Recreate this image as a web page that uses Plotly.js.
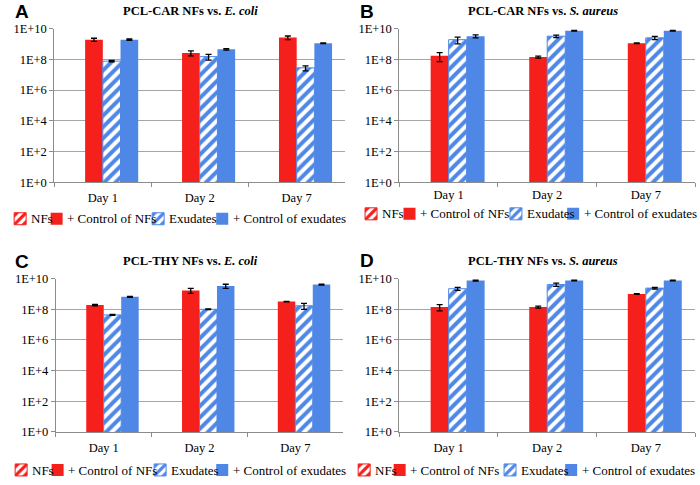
<!DOCTYPE html>
<html>
<head>
<meta charset="utf-8">
<script src="https://cdn.plot.ly/plotly-3.0.1.min.js"></script>
<style>
  html, body { margin: 0; padding: 0; background: #fff; }
  #chart { width: 700px; height: 485px; }
</style>
</head>
<body>
<div id="chart"></div>
<script>
// --- data ---
const days = ['Day 1', 'Day 2', 'Day 7'];
const seriesNames = ['NFs', '+ Control of NFs', 'Exudates', '+ Control of exudates'];
const yTickVals = [1, 1e2, 1e4, 1e6, 1e8, 1e10];
const yTickText = ['1E+0', '1E+2', '1E+4', '1E+6', '1E+8', '1E+10'];

// NFs themselves: no growth (nothing drawn on the log axis)
const nfsEmpty = [null, null, null];

// A: PCL-CAR vs E. coli
const carEcoliCtrlNFs = [1.9e9, 2.6e8, 2.6e9];
const carEcoliCtrlNFsErr = [0.45e9, 0.9e8, 0.7e9];
const carEcoliExud = [7.6e7, 1.5e8, 2.8e7];
const carEcoliExudErr = [0.8e7, 0.6e8, 1.0e7];
const carEcoliCtrlEx = [1.9e9, 4.5e8, 1.1e9];
const carEcoliCtrlExErr = [0.2e9, 0.5e8, 0.5e8];

// B: PCL-CAR vs S. aureus
const carSaurCtrlNFs = [1.7e8, 1.4e8, 1.1e9];
const carSaurCtrlNFsErr = [1.0e8, 0.2e8, 0.05e9];
const carSaurExud = [1.9e9, 3.2e9, 2.5e9];
const carSaurExudErr = [0.9e9, 0.6e9, 0.6e9];
const carSaurCtrlEx = [3.2e9, 7.2e9, 7.2e9];
const carSaurCtrlExErr = [0.7e9, 0.4e9, 0.4e9];

// C: PCL-THY vs E. coli
const thyEcoliCtrlNFs = [1.9e8, 1.7e9, 3.2e8];
const thyEcoliCtrlNFsErr = [0.2e8, 0.6e9, 0.1e8];
const thyEcoliExud = [4.3e7, 1.0e8, 1.7e8];
const thyEcoliExudErr = [0.3e7, 0.05e8, 0.7e8];
const thyEcoliCtrlEx = [6.5e8, 3.3e9, 4.1e9];
const thyEcoliCtrlExErr = [0.5e8, 1.0e9, 0.3e9];

// D: PCL-THY vs S. aureus
const thySaurCtrlNFs = [1.4e8, 1.4e8, 1.0e9];
const thySaurCtrlNFsErr = [0.6e8, 0.2e8, 0.05e9];
const thySaurExud = [2.2e9, 4.1e9, 2.4e9];
const thySaurExudErr = [0.5e9, 1.0e9, 0.3e9];
const thySaurCtrlEx = [7.5e9, 7.5e9, 7.5e9];
const thySaurCtrlExErr = [0.5e9, 0.4e9, 0.4e9];

const RED = '#f51f1b';
const BLUE = '#4f87e6';
const serif = '"Liberation Serif", "Times New Roman", serif';

const panels = [
  { letter: 'A', title: '<b>PCL-CAR NFs vs. <i>E. coli</i></b>', sfx: '',
    vals: [nfsEmpty, carEcoliCtrlNFs, carEcoliExud, carEcoliCtrlEx],
    errs: [nfsEmpty, carEcoliCtrlNFsErr, carEcoliExudErr, carEcoliCtrlExErr],
    xdom: [45, 340], ydom: [29, 185], titleX: 183, titleY: 11, letterX: 3, letterY: 12,
    standoff: 4, legY: 222, txt: [20, 57, 160, 225] },
  { letter: 'B', title: '<b>PCL-CAR NFs vs. <i>S. aureus</i></b>', sfx: '2',
    vals: [nfsEmpty, carSaurCtrlNFs, carSaurExud, carSaurCtrlEx],
    errs: [nfsEmpty, carSaurCtrlNFsErr, carSaurExudErr, carSaurCtrlExErr],
    xdom: [395, 695], ydom: [29, 185], titleX: 541, titleY: 11, letterX: 353, letterY: 12,
    standoff: 1, legY: 217, txt: [376, 415, 523, 581] },
  { letter: 'C', title: '<b>PCL-THY NFs vs. <i>E. coli</i></b>', sfx: '3',
    vals: [nfsEmpty, thyEcoliCtrlNFs, thyEcoliExud, thyEcoliCtrlEx],
    errs: [nfsEmpty, thyEcoliCtrlNFsErr, thyEcoliExudErr, thyEcoliCtrlExErr],
    xdom: [46.5, 338], ydom: [282.7, 438.3], titleX: 183, titleY: 265, letterX: 3, letterY: 265,
    standoff: 4, legY: 477, txt: [21, 58, 162, 225] },
  { letter: 'D', title: '<b>PCL-THY NFs vs. <i>S. aureus</i></b>', sfx: '4',
    vals: [nfsEmpty, thySaurCtrlNFs, thySaurExud, thySaurCtrlEx],
    errs: [nfsEmpty, thySaurCtrlNFsErr, thySaurExudErr, thySaurCtrlExErr],
    xdom: [395, 695], ydom: [282.7, 438.3], titleX: 541, titleY: 265, letterX: 353, letterY: 264,
    standoff: 4, legY: 477, txt: [369, 405, 517, 579] }
];

const W = 700, H = 485;
const px = x => x / W;
const py = y => 1 - y / H;

const styles = [
  { color: 'white', pattern: { shape: '/', fgcolor: RED, bgcolor: 'white', size: 8, solidity: 0.5 }, line: { color: RED, width: 1 } },
  { color: RED, line: { color: RED, width: 0 } },
  { color: 'white', pattern: { shape: '/', fgcolor: BLUE, bgcolor: 'white', size: 8, solidity: 0.5 }, line: { color: BLUE, width: 1 } },
  { color: BLUE, line: { color: BLUE, width: 0 } }
];

const traces = [];
const layout = {
  width: W, height: H,
  margin: { l: 0, r: 0, t: 0, b: 0 },
  paper_bgcolor: 'white', plot_bgcolor: 'white',
  barmode: 'group', bargap: 0.27, bargroupgap: 0,
  font: { family: serif, size: 12, color: '#000' },
  annotations: [],
  showlegend: true
};

// one legend per entry so each symbol sits where the reference puts it;
// the entry text is drawn as an annotation right next to the symbol
let legendCount = 0;
panels.forEach(p => {
  const xa = 'x' + p.sfx, ya = 'y' + p.sfx;
  seriesNames.forEach((name, i) => {
    legendCount++;
    const legId = legendCount === 1 ? 'legend' : 'legend' + legendCount;
    traces.push({
      type: 'bar', x: days, y: p.vals[i], xaxis: xa, yaxis: ya,
      name: ' ', legend: legId, hovertext: name,
      marker: styles[i],
      error_y: { type: 'data', array: p.errs[i], visible: true, color: '#000', thickness: 1.3, width: 3 }
    });
    layout[legId] = {
      x: px(p.txt[i] - 5.5 - 24.5), xanchor: 'left', y: py(p.legY), yanchor: 'middle',
      bgcolor: 'rgba(0,0,0,0)', borderwidth: 0, font: { size: 13 },
      itemwidth: 30, orientation: 'h'
    };
    layout.annotations.push({
      xref: 'paper', yref: 'paper', x: px(p.txt[i]), y: py(p.legY),
      xanchor: 'left', yanchor: 'middle', showarrow: false, borderpad: 0,
      text: name, font: { family: serif, size: 13, color: '#000' }
    });
  });

  layout['xaxis' + p.sfx] = {
    domain: [px(p.xdom[0]), px(p.xdom[1])], anchor: ya,
    type: 'category', showline: true, linecolor: '#8c8c8c', linewidth: 1,
    ticks: 'outside', tickson: 'boundaries', ticklen: 4, tickcolor: '#8c8c8c',
    ticklabelstandoff: p.standoff,
    showgrid: false, tickfont: { family: serif, size: 12.5 }, fixedrange: true
  };
  layout['yaxis' + p.sfx] = {
    domain: [py(p.ydom[1]), py(p.ydom[0])], anchor: xa,
    type: 'log', range: [0, 10], tickvals: yTickVals, ticktext: yTickText,
    showline: true, linecolor: '#8c8c8c', linewidth: 1,
    ticks: 'outside', ticklen: 4, tickcolor: '#8c8c8c',
    showgrid: true, gridcolor: '#a6a6a6', gridwidth: 1, zeroline: false,
    tickfont: { family: serif, size: 12.5 }, fixedrange: true
  };

  layout.annotations.push({
    xref: 'paper', yref: 'paper', x: px(p.titleX), y: py(p.titleY),
    xanchor: 'center', yanchor: 'middle', showarrow: false,
    text: p.title, font: { family: serif, size: 12.5, color: '#000' }
  });
  layout.annotations.push({
    xref: 'paper', yref: 'paper', x: px(p.letterX), y: py(p.letterY),
    xanchor: 'left', yanchor: 'middle', showarrow: false,
    text: '<b>' + p.letter + '</b>', font: { family: '"Liberation Sans", Arial, sans-serif', size: 19, color: '#000' }
  });
});

Plotly.newPlot('chart', traces, layout, { displayModeBar: false, staticPlot: true });
</script>
</body>
</html>
